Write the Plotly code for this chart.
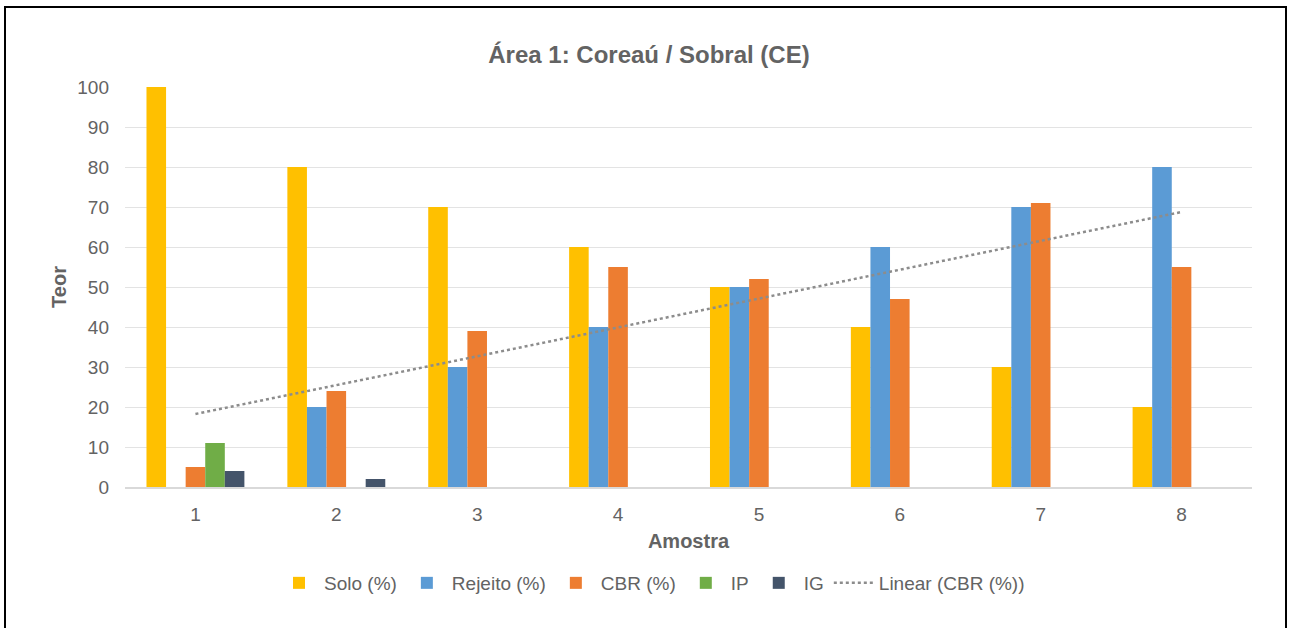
import numpy as np
import plotly.graph_objects as go

# Sample numbers (Amostra) and measured contents (Teor)
amostras = [1, 2, 3, 4, 5, 6, 7, 8]
solo = [100, 80, 70, 60, 50, 40, 30, 20]
rejeito = [0, 20, 30, 40, 50, 60, 70, 80]
cbr = [5, 24, 39, 55, 52, 47, 71, 55]
ip = [11, 0, 0, 0, 0, 0, 0, 0]
ig = [4, 2, 0, 0, 0, 0, 0, 0]
y_ticks = [0, 10, 20, 30, 40, 50, 60, 70, 80, 90, 100]

FONT = "Liberation Sans, Arial, sans-serif"
GREY = "#636363"

series = [
    ("Solo (%)", solo, "#FFC000"),
    ("Rejeito (%)", rejeito, "#5B9BD5"),
    ("CBR (%)", cbr, "#ED7D31"),
    ("IP", ip, "#70AD47"),
    ("IG", ig, "#44546A"),
]

fig = go.Figure()
for name, vals, color in series:
    fig.add_trace(go.Bar(
        x=amostras, y=vals, name=name,
        marker=dict(color=color, line=dict(width=0)),
    ))

# Least-squares linear trend of CBR
slope, intercept = np.polyfit(amostras, cbr, 1)
trend_x = [amostras[0], amostras[-1]]
trend_y = [slope * x + intercept for x in trend_x]
fig.add_trace(go.Scatter(
    x=trend_x, y=trend_y, mode="lines", name="Linear (CBR (%))",
    line=dict(color="#8C8C8C", width=2.5, dash="dot"),
))

L, R, T, B = 125, 41, 87, 141
W, H = 1293, 628
pw, ph = W - L - R, H - T - B

fig.update_layout(
    width=W, height=H,
    margin=dict(l=L, r=R, t=T, b=B),
    paper_bgcolor="white", plot_bgcolor="white",
    barmode="group", bargap=0.305, bargroupgap=0,
    font=dict(family=FONT, color=GREY, size=19),
    title=dict(
        text="<b>Área 1: Coreaú / Sobral (CE)</b>",
        x=(649 - L) / pw, xref="paper", xanchor="center",
        y=1 - 55 / H, yanchor="middle",
        font=dict(family=FONT, size=24, color=GREY),
    ),
    xaxis=dict(
        tickmode="array", tickvals=amostras, ticktext=[str(a) for a in amostras],
        range=[0.5, 8.5], showgrid=False, ticks="", showline=True,
        linecolor="#D9D9D9", linewidth=1.5, ticklabelstandoff=9,
        tickfont=dict(size=19, color=GREY),
        title=dict(text="<b>Amostra</b>", font=dict(size=20, color=GREY), standoff=10),
    ),
    yaxis=dict(
        range=[0, 100], tickvals=y_ticks, showgrid=True, gridcolor="#E3E3E3",
        gridwidth=1.2, zeroline=False, ticks="", ticklabelstandoff=15,
        tickfont=dict(size=19, color=GREY),
        title=dict(text="<b>Teor</b>", font=dict(size=20, color=GREY), standoff=5),
    ),
    legend=dict(
        orientation="h", x=(652 - L) / pw, xanchor="center",
        y=-(583 - (T + ph)) / ph, yanchor="middle",
        font=dict(size=19, color=GREY), traceorder="normal",
        itemwidth=40,
    ),
    shapes=[dict(
        type="rect", xref="paper", yref="paper",
        x0=(5 - L) / pw, x1=(1286 - L) / pw,
        y0=(T + ph - 640) / ph, y1=(T + ph - 7) / ph,
        line=dict(color="black", width=2), fillcolor="rgba(0,0,0,0)", layer="below",
    )],
)

fig.write_html("out.html")
